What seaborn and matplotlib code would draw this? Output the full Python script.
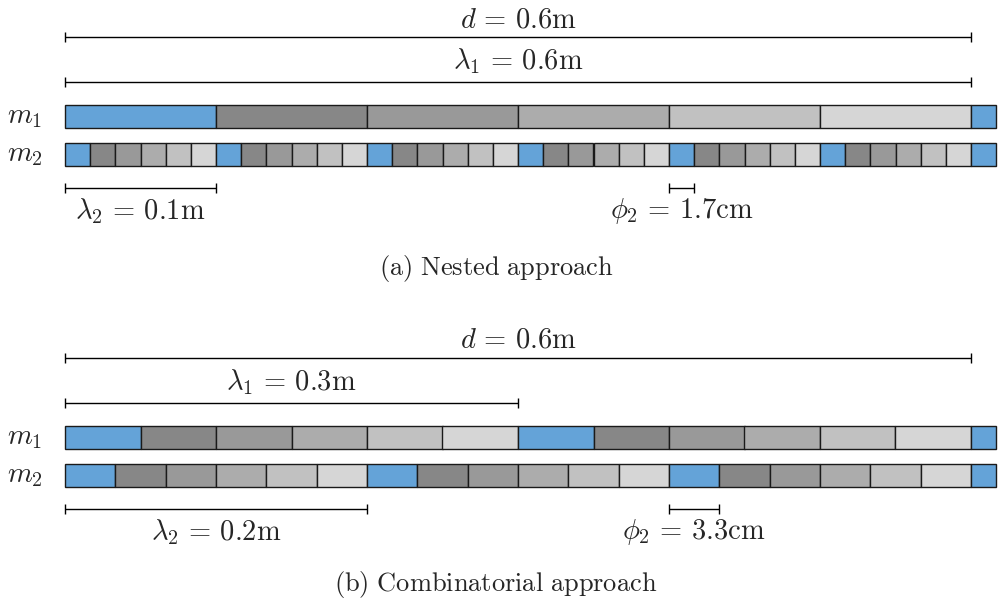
import numpy as np
import seaborn as sns
import matplotlib.pyplot as plt

# Data
d = 0.6                      # total length (m)
tail = 1 / 60                # strips run a little past d
panels = ["(a) Nested approach", "(b) Combinatorial approach"]
lambda1 = [0.6, 0.3]         # wavelength of m1 (m)
lambda2 = [0.1, 0.2]         # wavelength of m2 (m)
phi2_start = [0.4, 0.4]      # where the phase bracket starts (m)
d_text = r"$d\,=\,0.6\mathrm{m}$"
lambda1_text = [r"$\lambda_1\,=\,0.6\mathrm{m}$", r"$\lambda_1\,=\,0.3\mathrm{m}$"]
lambda2_text = [r"$\lambda_2\,=\,0.1\mathrm{m}$", r"$\lambda_2\,=\,0.2\mathrm{m}$"]
phi2_text = [r"$\phi_2\,=\,1.7\mathrm{cm}$", r"$\phi_2\,=\,3.3\mathrm{cm}$"]
cells_per_wave = 6

# Colors: blue then five greys
cell_colors = ["#64a3d8", "#878787", "#999999", "#acacac", "#c1c1c1", "#d6d6d6"]

sns.set_theme(style="white")
plt.rcParams["mathtext.fontset"] = "cm"

fig = plt.figure(figsize=(9.98, 5.99), dpi=100)
ax = fig.add_axes([0, 0, 1, 1])
# x in metres, y in a top-down layout unit (pixels)
ax.set_xlim(-65 / 1510, (998 - 65) / 1510)
ax.set_ylim(599, 0)
ax.axis("off")

fs = 20.5
tick = 5


def bracket(x0, x1, y):
    ax.plot([x0, x1], [y, y], color="black", lw=1.0, solid_capstyle="butt")
    ax.vlines([x0, x1], y - tick, y + tick, color="black", lw=1.0)


def strip(wavelength, y, h=23):
    w = wavelength / cells_per_wave
    n = int(np.ceil((d + tail) / w - 1e-9))
    lefts = np.arange(n) * w
    widths = np.minimum(w, d + tail - lefts)
    colors = [cell_colors[i % cells_per_wave] for i in range(n)]
    ax.barh(y, widths, left=lefts, height=h, color=colors,
            edgecolor="#1a1a1a", linewidth=1.0, align="center")


offsets = [0, 321]
caption_y = [268, 585]
for k, off in enumerate(offsets):
    # d and lambda1 brackets
    bracket(0, d, 37 + off)
    ax.text(d / 2, 19 + off, d_text, ha="center", va="center", fontsize=fs)
    bracket(0, lambda1[k], 82 + off)
    ax.text(lambda1[k] / 2, 61 + off, lambda1_text[k], ha="center", va="center", fontsize=fs)

    # strips
    strip(lambda1[k], 116.5 + off)
    strip(lambda2[k], 154.5 + off)
    ax.text(-0.0385, 116 + off, r"$m_1$", ha="left", va="center", fontsize=fs)
    ax.text(-0.0385, 154 + off, r"$m_2$", ha="left", va="center", fontsize=fs)

    # lambda2 and phi2 brackets
    bracket(0, lambda2[k], 188 + off)
    ax.text(lambda2[k] / 2, 211 + off, lambda2_text[k], ha="center", va="center", fontsize=fs)
    phi = lambda2[k] / cells_per_wave
    bracket(phi2_start[k], phi2_start[k] + phi, 188 + off)
    ax.text(phi2_start[k] + phi / 2, 211 + off, phi2_text[k], ha="center", va="center", fontsize=fs)

    # caption
    ax.text(0.2854, caption_y[k], r"$\mathrm{" + panels[k].replace(" ", r"\ ") + "}$",
            ha="center", va="center", fontsize=19)

plt.savefig("out.png", dpi=100)
